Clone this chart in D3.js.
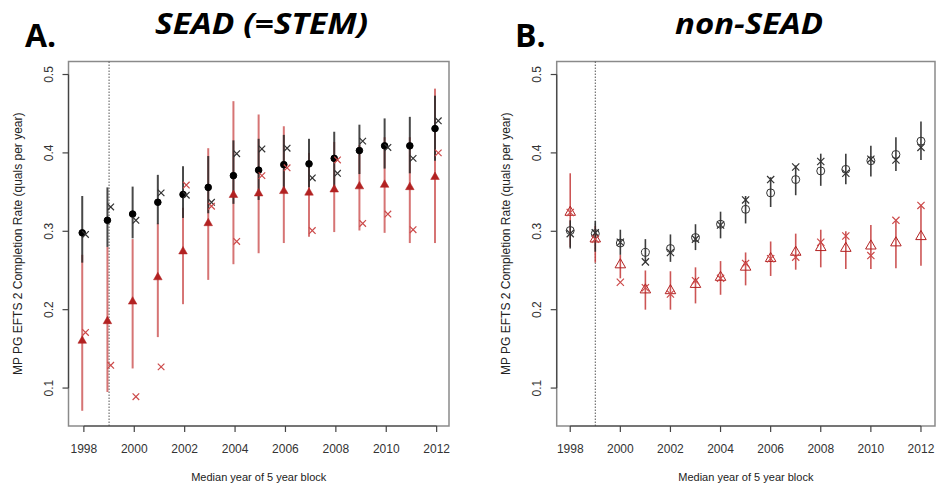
<!DOCTYPE html>
<html>
<head>
<meta charset="utf-8">
<script src="https://cdnjs.cloudflare.com/ajax/libs/d3/7.8.5/d3.min.js"></script>
<style>
  body { margin: 0; background: #fff; }
  text { font-family: "Liberation Sans", Arial, sans-serif; }
  .tick-label { font-size: 12px; fill: #333; }
  .axis-title { font-size: 12px; fill: #222; }
</style>
</head>
<body>
<div id="chart"></div>
<script>
// Years (median of 5 year block)
var years = [1998, 1999, 2000, 2001, 2002, 2003, 2004, 2005, 2006, 2007, 2008, 2009, 2010, 2011, 2012];
var xTicks = [1998, 2000, 2002, 2004, 2006, 2008, 2010, 2012];
var yTicks = [0.1, 0.2, 0.3, 0.4, 0.5];

// Panel A: SEAD (=STEM)
var seadBlack   = [0.298, 0.314, 0.322, 0.337, 0.347, 0.356, 0.371, 0.378, 0.385, 0.386, 0.393, 0.403, 0.409, 0.409, 0.431];
var seadBlackLo = [0.260, 0.280, 0.291, 0.309, 0.317, 0.323, 0.335, 0.340, 0.354, 0.356, 0.355, 0.373, 0.380, 0.374, 0.390];
var seadBlackHi = [0.345, 0.356, 0.357, 0.372, 0.383, 0.396, 0.416, 0.418, 0.423, 0.418, 0.427, 0.436, 0.444, 0.446, 0.473];
var seadRed     = [0.159, 0.184, 0.209, 0.240, 0.273, 0.309, 0.345, 0.347, 0.350, 0.348, 0.352, 0.356, 0.358, 0.355, 0.368];
var seadRedLo   = [0.071, 0.095, 0.125, 0.165, 0.207, 0.238, 0.258, 0.272, 0.285, 0.293, 0.299, 0.301, 0.298, 0.285, 0.285];
var seadRedHi   = [0.270, 0.280, 0.290, 0.310, 0.330, 0.406, 0.466, 0.449, 0.434, 0.400, 0.414, 0.410, 0.420, 0.420, 0.482];
var seadCrossBlack = [0.296, 0.331, 0.314, 0.349, 0.346, 0.337, 0.399, 0.405, 0.406, 0.368, 0.374, 0.415, 0.407, 0.393, 0.441];
var seadCrossRed   = [0.171, 0.129, 0.089, 0.127, 0.359, 0.332, 0.287, 0.371, 0.381, 0.301, 0.391, 0.310, 0.322, 0.302, 0.400];

// Panel B: non-SEAD
var nonBlack   = [0.301, 0.297, 0.285, 0.273, 0.278, 0.292, 0.309, 0.328, 0.349, 0.366, 0.377, 0.379, 0.390, 0.398, 0.415];
var nonBlackLo = [0.278, 0.274, 0.270, 0.262, 0.261, 0.276, 0.291, 0.310, 0.331, 0.346, 0.358, 0.360, 0.370, 0.377, 0.391];
var nonBlackHi = [0.314, 0.313, 0.302, 0.290, 0.296, 0.309, 0.325, 0.345, 0.369, 0.384, 0.399, 0.399, 0.409, 0.420, 0.440];
var nonRed     = [0.323, 0.289, 0.256, 0.224, 0.223, 0.231, 0.240, 0.253, 0.264, 0.272, 0.278, 0.277, 0.280, 0.284, 0.292];
var nonRedLo   = [0.280, 0.260, 0.240, 0.200, 0.200, 0.208, 0.219, 0.231, 0.243, 0.251, 0.254, 0.252, 0.252, 0.253, 0.256];
var nonRedHi   = [0.374, 0.307, 0.270, 0.250, 0.249, 0.254, 0.262, 0.273, 0.287, 0.297, 0.302, 0.300, 0.308, 0.314, 0.333];
var nonCrossBlack = [0.297, 0.298, 0.286, 0.261, 0.273, 0.290, 0.308, 0.340, 0.366, 0.382, 0.389, 0.374, 0.392, 0.391, 0.407];
var nonCrossRed   = [0.324, 0.290, 0.235, 0.228, 0.220, 0.237, 0.240, 0.259, 0.265, 0.267, 0.286, 0.294, 0.269, 0.314, 0.333];

var svgWidth = 936, svgHeight = 487;

var svg = d3.select("#chart").append("svg")
  .attr("width", svgWidth)
  .attr("height", svgHeight);

function drawPanel(opts) {
  var top = 61.5, bottom = 426;
  var x = d3.scaleLinear().domain(opts.xDomain).range([opts.left, opts.right]);
  var y = d3.scaleLinear().domain([0.0516, 0.5166]).range([bottom, top]);
  var g = svg.append("g");

  var rows = years.map(function(yr, i) {
    return {
      year: yr,
      b: opts.black[i], bLo: opts.blackLo[i], bHi: opts.blackHi[i],
      r: opts.red[i], rLo: opts.redLo[i], rHi: opts.redHi[i],
      cb: opts.crossBlack[i], cr: opts.crossRed[i]
    };
  });

  // box
  g.append("rect")
    .attr("x", opts.left).attr("y", top)
    .attr("width", opts.right - opts.left).attr("height", bottom - top)
    .attr("fill", "none").attr("stroke", "#8a8a8a").attr("stroke-width", 1.5);

  // dotted line at 1999
  g.append("line")
    .attr("x1", x(1999)).attr("x2", x(1999))
    .attr("y1", top).attr("y2", bottom)
    .attr("stroke", "#555").attr("stroke-width", 1)
    .attr("stroke-dasharray", "1.5,1.5");

  // y axis
  g.append("line")
    .attr("x1", opts.left).attr("x2", opts.left)
    .attr("y1", y(0.1)).attr("y2", y(0.5))
    .attr("stroke", "#444").attr("stroke-width", 1.2);
  yTicks.forEach(function(t) {
    g.append("line")
      .attr("x1", opts.left - 6).attr("x2", opts.left)
      .attr("y1", y(t)).attr("y2", y(t))
      .attr("stroke", "#444").attr("stroke-width", 1.2);
    g.append("text")
      .attr("class", "tick-label")
      .attr("transform", "translate(" + (opts.left - 15.5) + "," + y(t) + ") rotate(-90)")
      .attr("text-anchor", "middle")
      .text(d3.format(".1f")(t));
  });

  // x axis
  g.append("line")
    .attr("x1", x(1998)).attr("x2", x(2012))
    .attr("y1", bottom).attr("y2", bottom)
    .attr("stroke", "#444").attr("stroke-width", 1.2);
  xTicks.forEach(function(t) {
    g.append("line")
      .attr("x1", x(t)).attr("x2", x(t))
      .attr("y1", bottom).attr("y2", bottom + 6)
      .attr("stroke", "#444").attr("stroke-width", 1.2);
    g.append("text")
      .attr("class", "tick-label")
      .attr("x", x(t)).attr("y", 453)
      .attr("text-anchor", "middle")
      .text(t);
  });

  // axis titles
  g.append("text")
    .attr("class", "axis-title")
    .attr("x", (opts.left + opts.right) / 2).attr("y", 481)
    .attr("text-anchor", "middle")
    .style("font-size", "11px")
    .text("Median year of 5 year block");
  g.append("text")
    .attr("class", "axis-title")
    .attr("transform", "translate(" + (opts.left - 47) + "," + ((top + bottom) / 2) + ") rotate(-90)")
    .attr("text-anchor", "middle")
    .text("MP PG EFTS 2 Completion Rate (quals per year)");

  var off = opts.offset;

  // red error bars (under black)
  g.selectAll(".rbar").data(rows).enter().append("line")
    .attr("x1", d => x(d.year - off)).attr("x2", d => x(d.year - off))
    .attr("y1", d => y(d.rLo)).attr("y2", d => y(d.rHi))
    .attr("stroke", opts.redBar).attr("stroke-width", opts.barWidth);

  // black error bars
  g.selectAll(".bbar").data(rows).enter().append("line")
    .attr("x1", d => x(d.year - off)).attr("x2", d => x(d.year - off))
    .attr("y1", d => y(d.bLo)).attr("y2", d => y(d.bHi))
    .attr("stroke", opts.blackBar).attr("stroke-width", opts.barWidth);

  // crosses
  var cs = opts.crossSize;
  function cross(sel, key, color) {
    sel.append("path")
      .attr("d", d => {
        var cx = x(d.year + off), cy = y(d[key]);
        return "M" + (cx - cs) + "," + (cy - cs) + "L" + (cx + cs) + "," + (cy + cs) +
               "M" + (cx - cs) + "," + (cy + cs) + "L" + (cx + cs) + "," + (cy - cs);
      })
      .attr("stroke", color).attr("stroke-width", 1.2).attr("fill", "none");
  }

  var pts = g.selectAll(".pt").data(rows).enter().append("g");

  // triangles
  var tri = d3.symbol().type(d3.symbolTriangle).size(opts.triSize);
  pts.append("path")
    .attr("transform", d => "translate(" + x(d.year - off) + "," + (y(d.r) - 1) + ")")
    .attr("d", tri)
    .attr("fill", opts.filled ? "#b22222" : "none")
    .attr("stroke", "#b22222").attr("stroke-width", opts.filled ? 0.5 : 1);

  // circles
  pts.append("circle")
    .attr("cx", d => x(d.year - off)).attr("cy", d => y(d.b))
    .attr("r", opts.circleR)
    .attr("fill", opts.filled ? "#000" : "none")
    .attr("stroke", opts.filled ? "#000" : "#333").attr("stroke-width", 1);

  cross(pts, "cb", "#333");
  cross(pts, "cr", "#cc4a4a");

  // labels
  svg.append("text")
    .attr("x", opts.letterX).attr("y", 46.5)
    .style("font-size", "32px").style("font-weight", "bold")
    .style("font-family", "'Open Sans', 'Liberation Sans', sans-serif")
    .attr("fill", "#000")
    .text(opts.letter);
  svg.append("text")
    .attr("x", opts.titleX).attr("y", 34)
    .attr("text-anchor", "middle")
    .attr("textLength", opts.titleLen).attr("lengthAdjust", "spacingAndGlyphs")
    .style("font-size", "29px").style("font-weight", "bold").style("font-style", "italic")
    .style("font-family", "'Open Sans', 'Noto Sans', sans-serif")
    .attr("fill", "#000")
    .text(opts.title);
}

drawPanel({
  left: 68.5, right: 449, xDomain: [1997.39, 2012.49],
  black: seadBlack, blackLo: seadBlackLo, blackHi: seadBlackHi,
  red: seadRed, redLo: seadRedLo, redHi: seadRedHi,
  crossBlack: seadCrossBlack, crossRed: seadCrossRed,
  offset: 0.065, filled: true, circleR: 3.3, triSize: 32, crossSize: 3.3,
  barWidth: 2, blackBar: "rgba(40,40,40,0.85)", redBar: "rgba(200,70,70,0.75)",
  letter: "A.", letterX: 25, title: "SEAD (=STEM)", titleX: 261.5, titleLen: 213
});

drawPanel({
  left: 556.7, right: 935, xDomain: [1997.46, 2012.56],
  black: nonBlack, blackLo: nonBlackLo, blackHi: nonBlackHi,
  red: nonRed, redLo: nonRedLo, redHi: nonRedHi,
  crossBlack: nonCrossBlack, crossRed: nonCrossRed,
  offset: 0, filled: false, circleR: 4, triSize: 48, crossSize: 3.6,
  barWidth: 1.6, blackBar: "rgba(40,40,40,0.9)", redBar: "rgba(195,55,55,0.85)",
  letter: "B.", letterX: 515, title: "non-SEAD", titleX: 749, titleLen: 148
});
</script>
</body>
</html>
